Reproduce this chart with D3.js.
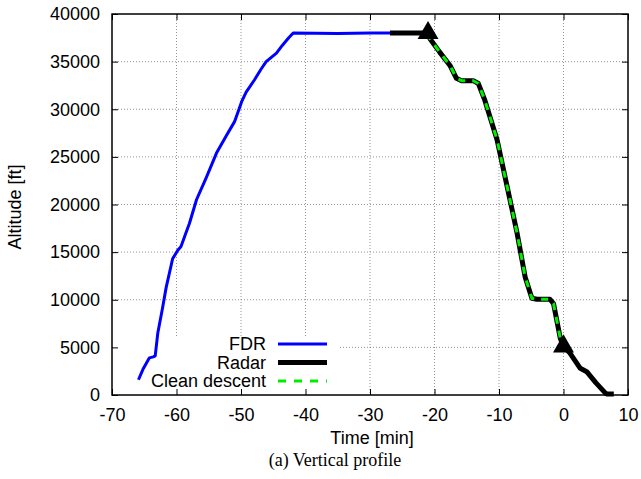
<!DOCTYPE html>
<html>
<head>
<meta charset="utf-8">
<script src="https://cdn.jsdelivr.net/npm/d3@7"></script>
<style>
  body { margin: 0; background: #fff; }
  svg text { font-family: "Liberation Sans", Arial, sans-serif; }
</style>
</head>
<body>
<svg id="chart" width="641" height="479"></svg>
<script>
// time [min], altitude [ft]
const fdrT = [-65.9, -65.2, -64.2, -63.6, -63.3, -62.9, -62.2, -61.6, -60.6, -59.8, -59.3, -58.6, -58.0, -56.9, -55.4, -53.8, -52.3, -51.0, -49.9, -49.2, -47.9, -46.9, -46.1, -44.5, -43.6, -42.6, -41.9, -35, -30, -26.9];
const fdrA = [1600, 2700, 3900, 4000, 4100, 6500, 9000, 11300, 14300, 15200, 15600, 16900, 18000, 20500, 22800, 25400, 27200, 28700, 30800, 31800, 33100, 34200, 35000, 35900, 36700, 37500, 38000, 37950, 38000, 38000];

const radarT = [-26.9, -21.0, -20.7, -19.2, -17.6, -16.6, -15.8, -14.0, -13.2, -12.2, -10.3, -8.3, -7.2, -5.95, -4.9, -4.1, -2.1, -1.55, -0.5, 0.0, 1.0, 2.6, 3.6, 5.0, 6.5, 6.7, 7.8];
const radarA = [38000, 38000, 37400, 36000, 34600, 33250, 33000, 33000, 32700, 30950, 26800, 20500, 17000, 12400, 10150, 10050, 10050, 9600, 5950, 5100, 4400, 2800, 2450, 1300, 200, 100, 100];

const cleanT = [-21.0, -20.7, -19.2, -17.6, -16.6, -15.8, -14.0, -13.2, -12.2, -10.3, -8.3, -7.2, -5.95, -4.9, -4.1, -2.1, -1.55, -0.5, 0.0];
const cleanA = [38000, 37400, 36000, 34600, 33250, 33000, 33000, 32700, 30950, 26800, 20500, 17000, 12400, 10150, 10050, 10050, 9600, 5950, 5400];

const markT = [-21.0, 0.0];
const markA = [38000, 5100];

const xTicks = [-70, -60, -50, -40, -30, -20, -10, 0, 10];
const yTicks = [0, 5000, 10000, 15000, 20000, 25000, 30000, 35000, 40000];

const legendNames = ["FDR", "Radar", "Clean descent"];

const svg = d3.select("#chart");
const plotL = 112, plotR = 628, plotT = 14, plotB = 395;
const fs = 18;

const x = d3.scaleLinear().domain([-70, 10]).range([plotL, plotR]);
const y = d3.scaleLinear().domain([0, 40000]).range([plotB, plotT]);

const zip = (ts, as) => ts.map((t, i) => [t, as[i]]);
const line = d3.line().x(d => x(d[0])).y(d => y(d[1]));
const plain = d => String(d);

// grid
const grid = svg.append("g")
  .attr("stroke", "#777")
  .attr("stroke-width", 0.8)
  .attr("stroke-dasharray", "1,2");
grid.selectAll("line.gx").data(xTicks.slice(1, -1)).join("line")
  .attr("class", "gx")
  .attr("x1", d => x(d)).attr("x2", d => x(d))
  .attr("y1", plotT).attr("y2", plotB);
grid.selectAll("line.gy").data(yTicks.slice(1, -1)).join("line")
  .attr("class", "gy")
  .attr("x1", plotL).attr("x2", plotR)
  .attr("y1", d => y(d)).attr("y2", d => y(d));

// legend background covers the grid
svg.append("rect")
  .attr("x", plotL + 1).attr("y", 336)
  .attr("width", 226).attr("height", plotB - 337)
  .attr("fill", "#fff");

// axes (ticks inward, mirrored)
const axB = svg.append("g").attr("transform", `translate(0,${plotB})`)
  .call(d3.axisBottom(x).tickValues(xTicks).tickSize(-6).tickPadding(13).tickFormat(plain));
const axT = svg.append("g").attr("transform", `translate(0,${plotT})`)
  .call(d3.axisTop(x).tickValues(xTicks).tickSize(-6).tickFormat(""));
const axL = svg.append("g").attr("transform", `translate(${plotL},0)`)
  .call(d3.axisLeft(y).tickValues(yTicks).tickSize(-6).tickPadding(12).tickFormat(plain));
const axR = svg.append("g").attr("transform", `translate(${plotR},0)`)
  .call(d3.axisRight(y).tickValues(yTicks).tickSize(-6).tickFormat(""));
[axB, axT, axL, axR].forEach(a => {
  a.attr("font-size", fs).attr("font-family", "Liberation Sans, Arial, sans-serif");
  a.select(".domain").remove();
  a.selectAll("line").attr("stroke", "#000");
  a.selectAll("text").attr("fill", "#000");
});

// frame
svg.append("rect")
  .attr("x", plotL).attr("y", plotT)
  .attr("width", plotR - plotL).attr("height", plotB - plotT)
  .attr("fill", "none").attr("stroke", "#000").attr("stroke-width", 1.5);

// series
svg.append("path").datum(zip(fdrT, fdrA)).attr("d", line)
  .attr("fill", "none").attr("stroke", "#0000ff").attr("stroke-width", 3)
  .attr("stroke-linejoin", "round");
svg.append("path").datum(zip(radarT, radarA)).attr("d", line)
  .attr("fill", "none").attr("stroke", "#000").attr("stroke-width", 5)
  .attr("stroke-linejoin", "round");
svg.append("path").datum(zip(cleanT, cleanA)).attr("d", line)
  .attr("fill", "none").attr("stroke", "#00ee00").attr("stroke-width", 3)
  .attr("stroke-dasharray", "7,7");

// markers
svg.selectAll("path.mark").data(zip(markT, markA)).join("path")
  .attr("class", "mark")
  .attr("d", d3.symbol().type(d3.symbolTriangle).size(190))
  .attr("transform", d => `translate(${x(d[0])},${y(d[1])})`)
  .attr("fill", "#000");

// legend
const legendStyle = [
  { stroke: "#0000ff", width: 3, dash: null },
  { stroke: "#000", width: 5, dash: null },
  { stroke: "#00ee00", width: 3, dash: "8,8" }
];
const lg = svg.append("g");
legendNames.forEach((name, i) => {
  const yy = 344 + i * 18.5;
  lg.append("text").attr("x", 266).attr("y", yy + 6)
    .attr("text-anchor", "end").attr("font-size", fs).text(name);
  lg.append("line").attr("x1", 278).attr("x2", 327)
    .attr("y1", yy).attr("y2", yy)
    .attr("stroke", legendStyle[i].stroke)
    .attr("stroke-width", legendStyle[i].width)
    .attr("stroke-dasharray", legendStyle[i].dash);
});

// axis titles
svg.append("text").attr("x", 372).attr("y", 444)
  .attr("text-anchor", "middle").attr("font-size", fs).text("Time [min]");
svg.append("text")
  .attr("transform", "translate(21,207) rotate(-90)")
  .attr("text-anchor", "middle").attr("font-size", fs).text("Altitude [ft]");
svg.append("text").attr("x", 335).attr("y", 466)
  .attr("text-anchor", "middle").attr("font-size", 18)
  .style("font-family", "'Liberation Serif', 'Times New Roman', serif")
  .text("(a) Vertical profile");
</script>
</body>
</html>
